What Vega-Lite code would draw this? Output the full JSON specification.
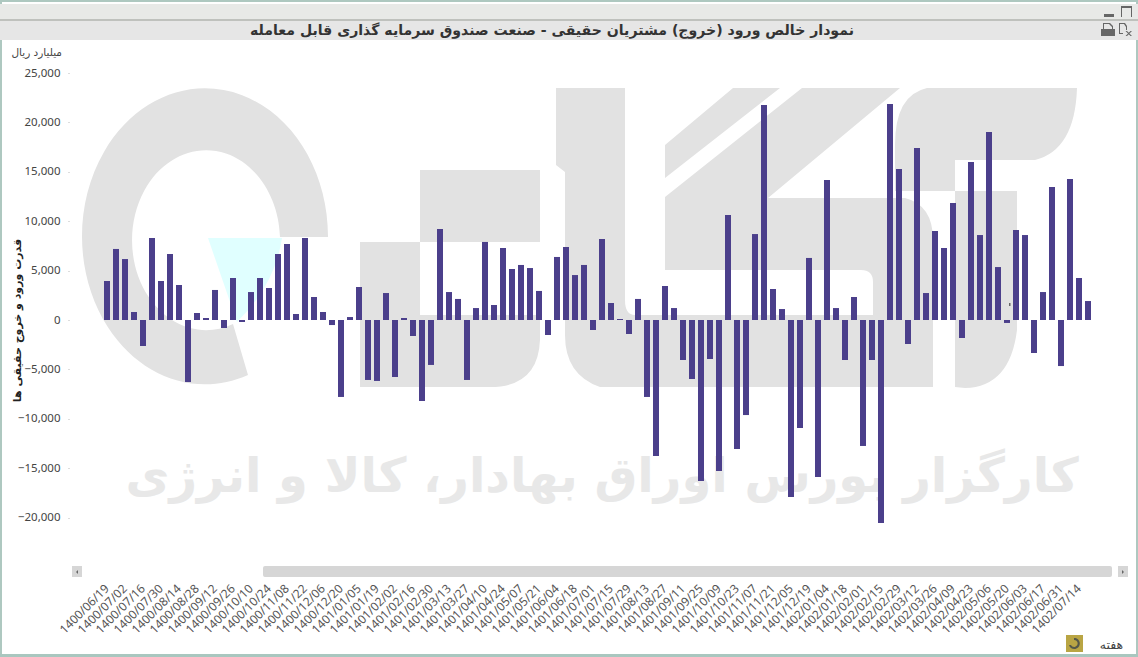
{
"$schema":"https://vega.github.io/schema/vega-lite/v6.json",
"width":1138,"height":657,"autosize":"none","padding":0,"background":"#ffffff",
"config":{"view":{"stroke":"#aec8c0","strokeWidth":4}},
"title":{"text":"نمودار خالص ورود (خروج) مشتریان حقیقی - صنعت صندوق سرمایه گذاری قابل معامله","anchor":"middle","frame":"group","dx":-17,"dy":45,"offset":0,"font":"DejaVu Sans","fontSize":14.1,"fontWeight":"bold","color":"#333333","baseline":"middle"},
"layer":[
{"data":{"values":[{"part":"top strip"}]},"mark":{"type":"rect","color":"#e8e9e7"},"encoding":{"y":{"datum":31984},"y2":{"datum":30466}}},
{"data":{"values":[{"part":"top line"}]},"mark":{"type":"rect","color":"#bfc1bd"},"encoding":{"y":{"datum":30466},"y2":{"datum":30263}}},
{"data":{"values":[{"part":"title strip"}]},"mark":{"type":"rect","color":"#e6e6e6"},"encoding":{"y":{"datum":30263},"y2":{"datum":28340}}},
{"data":{"values":[{"part":"bottom strip"}]},"mark":{"type":"rect","color":"#a9c7bf"},"encoding":{"y":{"datum":-33800},"y2":{"datum":-34110}}},
{"data":{"values":[{"part":"logo"}]},"mark":{"type":"point","filled":true,"opacity":1,"size":4,"strokeWidth":0,"color":"#e2e2e2","shape":"M221,-83 A123,148 0 1 0 141,55 L126,4 A74,90 0 1 1 173,-83 Z M313,-150 L433,-150 L433,-78 L313,-78 Z M253,-78 L313,-78 L313,-5 L433,-5 L433,20 Q431,67 383,67 L253,67 Z M449,-232 L518,-232 L518,-20 Q518,-5 528,-5 L766,-5 L766,-38 Q766,-50 754,-50 L558,-50 L558,-123 L695,-232 L793,-232 L661,-122 L798,-122 Q826,-115 826,-80 L826,67 L493,67 Q458,55 458,15 L458,-148 L449,-155 Z M558,-175 L626,-232 L673,-232 L558,-142 Z M820,-232 L970,-232 Q968,-170 928,-160 L848,-160 L848,-129 L788,-129 L788,-175 Q788,-225 820,-232 Z M848,-129 L910,-129 L910,10 Q903,67 858,68 L848,67 Z"},"encoding":{"x":{"datum":"1400/06/19","type":"ordinal"},"y":{"datum":0}}},
{"data":{"values":[{"part":"logo accent"}]},"mark":{"type":"point","filled":true,"opacity":1,"size":4,"strokeWidth":0,"color":"#e0ffff","shape":"M101,-82 L175,-82 Q168,-35 130,2 Z"},"encoding":{"x":{"datum":"1400/06/19","type":"ordinal"},"y":{"datum":0}}},
{"data":{"values":[{"part":"watermark"}]},"mark":{"type":"text","text":"کارگزار بورس اوراق بهادار، کالا و انرژی","font":"DejaVu Sans","fontWeight":"bold","fontSize":48,"color":"#e8e8e8","align":"center","baseline":"middle"},"encoding":{"x":{"datum":"1401/07/08","type":"ordinal"},"y":{"datum":-16000}}},
{"data":{"values":[{"part":"scrollbar"}]},"mark":{"type":"point","filled":true,"opacity":1,"size":4,"strokeWidth":0,"color":"#d6d6d6","shape":"M158,246 L1003,246 Q1005,246 1005,248 L1005,255 Q1005,257 1003,257 L158,257 Q156,257 156,255 L156,248 Q156,246 158,246 Z M-35,246 L-25,246 L-25,257 L-35,257 Z M1011,246 L1021,246 L1021,257 L1011,257 Z"},"encoding":{"x":{"datum":"1400/06/19","type":"ordinal"},"y":{"datum":0}}},
{"data":{"values":[{"part":"window icons"}]},"mark":{"type":"point","filled":true,"opacity":1,"size":4,"strokeWidth":0,"color":"#666666","shape":"M997,-306 h10 v3 h-10 z M1014,-314 h11 v11 h-11 z M1015,-312 v9 h9 v-9 z M994,-291 h14 v7 h-14 z M996,-291 v-6 h7 l3,3 v3 h-1 v-2 l-3,-3 h-5 v5 z M1012,-297 h6 l2,3 v4 h-1 v-3 l-2,-3 h-4 v9 h3 v1 h-4 z M1020,-289 l5,5 h-1.500 l-5,-5 z M1025,-289 l-5,5 h-1.500 l5,-5 z M-31,252 l2,-2 v4 z M1017,252 l-2,-2 v4 z M902,-17 h1.500 v3 h-1.500 z"},"encoding":{"x":{"datum":"1400/06/19","type":"ordinal"},"y":{"datum":0}}},
{"data":{"values":[{"part":"refresh icon"}]},"mark":{"type":"point","filled":true,"opacity":1,"size":4,"strokeWidth":0,"color":"#b9a544","shape":"M959,315 h17 v17 h-17 z"},"encoding":{"x":{"datum":"1400/06/19","type":"ordinal"},"y":{"datum":0}}},
{"data":{"values":[{"part":"refresh glyph"}]},"mark":{"type":"point","filled":true,"opacity":1,"size":4,"strokeWidth":0,"color":"#55584a","shape":"M967,318 A5.500,5.500 0 1 1 962,325 L964,325 A3.500,3.500 0 1 0 967,320 Z"},"encoding":{"x":{"datum":"1400/06/19","type":"ordinal"},"y":{"datum":0}}},
{"data":{"values":[
{"week":"1400/06/19","net":3950},{"week":"1400/06/26","net":7190},{"week":"1400/07/02","net":6170},{"week":"1400/07/09","net":810},{"week":"1400/07/16","net":-2630},{"week":"1400/07/23","net":8300},{"week":"1400/07/30","net":3950},{"week":"1400/08/07","net":6680},{"week":"1400/08/14","net":3540},{"week":"1400/08/21","net":-6280},
{"week":"1400/08/28","net":710},{"week":"1400/09/05","net":200},{"week":"1400/09/12","net":3040},{"week":"1400/09/19","net":-810},{"week":"1400/09/26","net":4250},{"week":"1400/10/03","net":-200},{"week":"1400/10/10","net":2830},{"week":"1400/10/17","net":4250},{"week":"1400/10/24","net":3240},{"week":"1400/11/01","net":6680},
{"week":"1400/11/08","net":7690},{"week":"1400/11/15","net":610},{"week":"1400/11/22","net":8300},{"week":"1400/11/29","net":2330},{"week":"1400/12/06","net":810},{"week":"1400/12/13","net":-510},{"week":"1400/12/20","net":-7790},{"week":"1400/12/27","net":300},{"week":"1401/01/05","net":3340},{"week":"1401/01/12","net":-6070},
{"week":"1401/01/19","net":-6170},{"week":"1401/01/26","net":2730},{"week":"1401/02/02","net":-5770},{"week":"1401/02/09","net":200},{"week":"1401/02/16","net":-1620},{"week":"1401/02/23","net":-8200},{"week":"1401/02/30","net":-4550},{"week":"1401/03/06","net":9210},{"week":"1401/03/13","net":2830},{"week":"1401/03/20","net":2130},
{"week":"1401/03/27","net":-6070},{"week":"1401/04/03","net":1210},{"week":"1401/04/10","net":7900},{"week":"1401/04/17","net":1520},{"week":"1401/04/24","net":7290},{"week":"1401/04/31","net":5160},{"week":"1401/05/07","net":5570},{"week":"1401/05/14","net":5260},{"week":"1401/05/21","net":2940},{"week":"1401/05/28","net":-1520},
{"week":"1401/06/04","net":6380},{"week":"1401/06/11","net":7390},{"week":"1401/06/18","net":4550},{"week":"1401/06/25","net":5570},{"week":"1401/07/01","net":-1010},{"week":"1401/07/08","net":8200},{"week":"1401/07/15","net":1720},{"week":"1401/07/22","net":100},{"week":"1401/07/29","net":-1420},{"week":"1401/08/06","net":2130},
{"week":"1401/08/13","net":-7790},{"week":"1401/08/20","net":-13770},{"week":"1401/08/27","net":3440},{"week":"1401/09/04","net":1210},{"week":"1401/09/11","net":-4050},{"week":"1401/09/18","net":-5970},{"week":"1401/09/25","net":-16300},{"week":"1401/10/02","net":-3950},{"week":"1401/10/09","net":-15280},{"week":"1401/10/16","net":10630},
{"week":"1401/10/23","net":-13060},{"week":"1401/10/30","net":-9620},{"week":"1401/11/07","net":8700},{"week":"1401/11/14","net":21760},{"week":"1401/11/21","net":3140},{"week":"1401/11/28","net":1110},{"week":"1401/12/05","net":-17920},{"week":"1401/12/12","net":-10930},{"week":"1401/12/19","net":6280},{"week":"1401/12/26","net":-15890},
{"week":"1402/01/04","net":14170},{"week":"1402/01/11","net":1210},{"week":"1402/01/18","net":-4050},{"week":"1402/01/25","net":2330},{"week":"1402/02/01","net":-12750},{"week":"1402/02/08","net":-4050},{"week":"1402/02/15","net":-20550},{"week":"1402/02/22","net":21860},{"week":"1402/02/29","net":15280},{"week":"1402/03/05","net":-2430},
{"week":"1402/03/12","net":17410},{"week":"1402/03/19","net":2730},{"week":"1402/03/26","net":9010},{"week":"1402/04/02","net":7290},{"week":"1402/04/09","net":11840},{"week":"1402/04/16","net":-1820},{"week":"1402/04/23","net":15990},{"week":"1402/04/30","net":8600},{"week":"1402/05/06","net":19030},{"week":"1402/05/13","net":5360},
{"week":"1402/05/20","net":-300},{"week":"1402/05/27","net":9110},{"week":"1402/06/03","net":8600},{"week":"1402/06/10","net":-3340},{"week":"1402/06/17","net":2830},{"week":"1402/06/24","net":13460},{"week":"1402/06/31","net":-4660},{"week":"1402/07/07","net":14270},{"week":"1402/07/14","net":4250},{"week":"1402/07/21","net":1920}
]},
"mark":{"type":"bar","color":"#4b3f8b"},
"encoding":{
"x":{"field":"week","type":"ordinal","scale":{"range":[102.5,1092.5],"paddingInner":0.3333,"paddingOuter":0.1667},
"axis":{"title":"هفته","titleFont":"DejaVu Sans","titleFontSize":12.5,"titleFontWeight":"normal","titleColor":"#444444","titleX":1111,"titleY":58,"titleAnchor":"middle","titleBaseline":"middle","offset":-71,"domain":false,"ticks":false,"labelPadding":0,"labelAngle":-45,"labelAlign":"right","labelBaseline":"middle","labelOverlap":false,"labelFont":"Noto Sans","labelFontSize":12,"labelColor":"#555555","values":["1400/06/19","1400/07/02","1400/07/16","1400/07/30","1400/08/14","1400/08/28","1400/09/12","1400/09/26","1400/10/10","1400/10/24","1400/11/08","1400/11/22","1400/12/06","1400/12/20","1401/01/05","1401/01/19","1401/02/02","1401/02/16","1401/02/30","1401/03/13","1401/03/27","1401/04/10","1401/04/24","1401/05/07","1401/05/21","1401/06/04","1401/06/18","1401/07/01","1401/07/15","1401/07/29","1401/08/13","1401/08/27","1401/09/11","1401/09/25","1401/10/09","1401/10/23","1401/11/07","1401/11/21","1401/12/05","1401/12/19","1402/01/04","1402/01/18","1402/02/01","1402/02/15","1402/02/29","1402/03/12","1402/03/26","1402/04/09","1402/04/23","1402/05/06","1402/05/20","1402/06/03","1402/06/17","1402/06/31","1402/07/14"]}},
"y":{"field":"net","type":"quantitative","scale":{"domain":[-25000,25000],"range":[567,73],"nice":false,"zero":false},
"axis":{"title":"قدرت ورود و خروج حقیقی ها","titleFont":"DejaVu Sans","titleFontSize":11,"titleFontWeight":"bold","titleColor":"#222222","titleX":-52,"titleY":320,"titleAngle":-90,"titleAnchor":"middle","titleBaseline":"middle","offset":-69,"domain":false,"grid":false,"tickSize":1,"tickColor":"#bbbbbb","labelPadding":8,"labelFont":"Noto Sans","labelFontSize":11.500,"labelColor":"#444444","labelExpr":"format(datum.value, ',')","values":[-20000,-15000,-10000,-5000,0,5000,10000,15000,20000,25000]}}
}},
{"data":{"values":[{"part":"unit"}]},"mark":{"type":"text","text":"میلیارد ریال","font":"DejaVu Sans","fontSize":10.500,"color":"#444444","align":"right","baseline":"middle","dx":-45},"encoding":{"x":{"datum":"1400/06/19","type":"ordinal"},"y":{"datum":27024}}}
]
}
